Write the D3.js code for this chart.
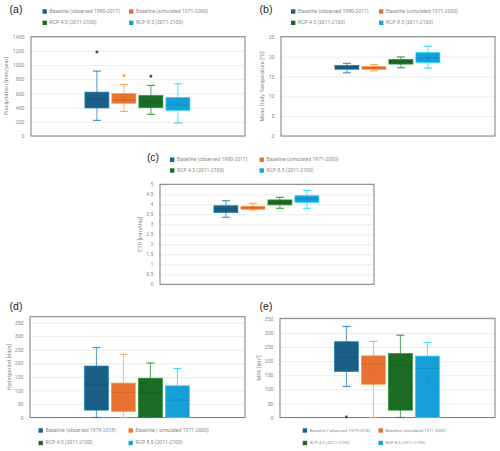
<!DOCTYPE html>
<html>
<head>
<meta charset="utf-8">
<script src="https://cdn.jsdelivr.net/npm/d3@7"></script>
<style>
  body { margin: 0; background: #fff; }
  text { font-family: Roboto, "Liberation Sans", sans-serif; }
</style>
</head>
<body>
<div id="canvas"></div>
<script>
"use strict"

/* Series (same four in every panel) */
let seriesColors = ["#1b5f86", "#ea7231", "#1c6b25", "#179fd9"];

/* Box stats per series: [whiskerLow, q1, median, q3, whiskerHigh, mean] */
let precipBoxes = [
    [220, 395, 515, 619, 915, 544],
    [347, 460, 510, 600, 727, 530],
    [305, 399, 478, 572, 713, 492],
    [183, 362, 436, 544, 737, 450]
];
let precipOutliers = [1185, 852, 843, null];
let tempBoxes = [
    [15.9, 16.8, 17.3, 17.8, 18.3, 17.3],
    [16.4, 16.8, 17.1, 17.5, 18.0, 17.1],
    [17.2, 18.1, 18.7, 19.3, 19.9, 18.7],
    [17.1, 18.5, 19.6, 21.0, 22.6, 19.6]
];
let etpBoxes = [
    [3.35, 3.58, 3.77, 3.93, 4.18, 3.78],
    [3.72, 3.75, 3.83, 3.90, 4.05, 3.84],
    [3.80, 3.97, 4.10, 4.22, 4.35, 4.12],
    [3.80, 4.10, 4.27, 4.43, 4.70, 4.28]
];
let hydroBoxes = [
    [0, 27, 123, 190, 258, 117],
    [0, 22, 93, 127, 233, 91],
    [0, 0, 93, 145, 201, 86],
    [0, 0, 64, 117, 181, 64]
];
let mfaBoxes = [
    [110, 163, 214, 269, 323, 199],
    [0, 118, 190, 219, 270, 164],
    [0, 26, 185, 227, 292, 153],
    [0, 0, 174, 218, 266, 140]
];
let mfaOutliers = [2, null, null, null];

/* Legend labels */
let legendABC = ["Baseline (observed 1980-2017)", "Baseline (simulated 1971-2000)",
                 "RCP 4.5 (2011-2100)", "RCP 8.5 (2011-2100)"];
let legendD = ["Baseline (observed 1979-2018)", "Baseline ( simulated 1971-2000)",
               "RCP 4.5 (2011-2100)", "RCP 8.5 (2011-2100)"];
let legendE = ["Baseline ( observed 1979-2018)", "Baseline (simulated 1971-2000)",
               "RCP 4.5 (2011-2100)", "RCP 8.5 (2011-2100)"];

/* Tick values */
let ticksA = [0, 200, 400, 600, 800, 1000, 1200, 1400];
let ticksB = [0, 5, 10, 15, 20, 25];
let ticksC = [0, 0.5, 1, 1.5, 2, 2.5, 3, 3.5, 4, 4.5, 5];
let ticksDE = [0, 50, 100, 150, 200, 250, 300, 350];

let svgWidth = 500;
let svgHeight = 451;

let svg = d3.select("#canvas")
    .append("svg")
    .attr("width", svgWidth)
    .attr("height", svgHeight);

/* panel layout */
let panels = [
    { tag: "(a)", tagX: 16, tagY: 10, box: [31, 245, 36.7, 136], domain: [0, 1400], ticks: ticksA,
      title: "Precipitation [mm/year]", titleX: 7, data: precipBoxes, outliers: precipOutliers,
      legend: legendABC, legX: [42.5, 129], legY: [11.5, 22.8], legSize: 5.1 },
    { tag: "(b)", tagX: 266, tagY: 10, box: [281, 495, 36.7, 136], domain: [0, 25], ticks: ticksB,
      title: "Mean Daily Temperature [°C]", titleX: 263, data: tempBoxes, outliers: null,
      legend: legendABC, legX: [291, 379], legY: [11.5, 22.8], legSize: 5.1 },
    { tag: "(c)", tagX: 153, tagY: 158.5, box: [160, 374, 184.3, 284.3], domain: [0, 5], ticks: ticksC,
      title: "ETP [mm/day]", titleX: 141, data: etpBoxes, outliers: null,
      legend: legendABC, legX: [170, 259.5], legY: [159.7, 170.5], legSize: 5.1 },
    { tag: "(d)", tagX: 16, tagY: 307, box: [30, 245, 316.7, 417.5], domain: [0, 372], ticks: ticksDE,
      title: "Hydroperiod [days]", titleX: 10, data: hydroBoxes, outliers: null,
      legend: legendD, legX: [38.5, 128.5], legY: [430.5, 443], legSize: 5.1 },
    { tag: "(e)", tagX: 266, tagY: 307, box: [280, 495, 318.3, 417.5], domain: [0, 352], ticks: ticksDE,
      title: "MFA [km2]", titleX: 260, data: mfaBoxes, outliers: mfaOutliers,
      legend: legendE, legX: [302.7, 378.5], legY: [430.5, 443], legSize: 4.3 }
];

panels.forEach(function(p) {
    let [x0, x1, y0, y1] = p.box;
    let g = svg.append("g");

    let yScale = d3.scaleLinear().domain(p.domain).range([y1, y0]);
    let cx = (x0 + x1) / 2 - 0.6;
    let xScale = d3.scaleBand()
        .domain(d3.range(4))
        .range([cx - 52.5, cx + 52.5])
        .paddingInner(0.111)
        .paddingOuter(0);

    /* gridlines */
    g.append("g")
        .attr("transform", "translate(" + x0 + ",0)")
        .call(d3.axisLeft(yScale).tickValues(p.ticks).tickSize(-(x1 - x0)).tickFormat(""))
        .call(a => a.select(".domain").remove())
        .call(a => a.selectAll("line").attr("stroke", "#ececec").attr("stroke-width", 1));

    /* tick labels */
    g.append("g")
        .attr("transform", "translate(" + (x0 - 3.5) + ",0)")
        .call(d3.axisLeft(yScale).tickValues(p.ticks).tickSize(0).tickFormat(d3.format("")))
        .call(a => a.select(".domain").remove())
        .call(a => a.selectAll("text")
            .attr("fill", "#8a8a8a")
            .style("font-size", "5.2px"));

    /* frame */
    g.append("rect")
        .attr("x", x0).attr("y", y0)
        .attr("width", x1 - x0).attr("height", y1 - y0)
        .attr("fill", "none")
        .attr("stroke", "#7c7c7c")
        .attr("stroke-width", 1);

    /* y title */
    let tt = g.append("text")
        .attr("transform", "translate(" + p.titleX + "," + ((y0 + y1) / 2) + ") rotate(-90)")
        .attr("text-anchor", "middle")
        .attr("dominant-baseline", "middle")
        .attr("fill", "#8a8a8a")
        .style("font-size", "5.6px");
    if (p.title === "MFA [km2]") {
        tt.append("tspan").text("MFA [km");
        tt.append("tspan").attr("dy", -2).style("font-size", "4px").text("2");
        tt.append("tspan").attr("dy", 2).text("]");
    } else {
        tt.text(p.title);
    }

    /* panel tag */
    g.append("text")
        .attr("x", p.tagX).attr("y", p.tagY)
        .attr("text-anchor", "middle")
        .attr("dominant-baseline", "middle")
        .attr("fill", "#222")
        .style("font-size", "10.5px")
        .style("font-family", "'Liberation Sans', Arial, sans-serif")
        .text(p.tag);

    /* boxes */
    p.data.forEach(function(d, i) {
        let col = seriesColors[i];
        let light = d3.color(col).brighter(0.9).formatHex();
        let dark = d3.color(col).darker(0.6).formatHex();
        let bx = xScale(i);
        let bw = xScale.bandwidth();
        let mid = bx + bw / 2;

        /* whisker */
        g.append("line")
            .attr("x1", mid).attr("x2", mid)
            .attr("y1", yScale(d[0])).attr("y2", yScale(d[4]))
            .attr("stroke", light).attr("stroke-opacity", 0.8).attr("stroke-width", 1);
        [d[0], d[4]].forEach(function(v) {
            g.append("line")
                .attr("x1", mid - 4).attr("x2", mid + 4)
                .attr("y1", yScale(v)).attr("y2", yScale(v))
                .attr("stroke", light).attr("stroke-opacity", 0.85).attr("stroke-width", 1.2);
        });

        /* box */
        g.append("rect")
            .attr("x", bx).attr("width", bw)
            .attr("y", yScale(d[3]))
            .attr("height", Math.max(yScale(d[1]) - yScale(d[3]), 0.5))
            .attr("fill", col)
            .attr("stroke", light)
            .attr("stroke-width", 0.7);

        /* median */
        g.append("line")
            .attr("x1", bx).attr("x2", bx + bw)
            .attr("y1", yScale(d[2])).attr("y2", yScale(d[2]))
            .attr("stroke", dark).attr("stroke-width", 0.6);

        /* mean x */
        let my = yScale(d[5]);
        g.append("path")
            .attr("d", "M" + (mid - 1.7) + "," + (my - 1.7) + "L" + (mid + 1.7) + "," + (my + 1.7) +
                       "M" + (mid - 1.7) + "," + (my + 1.7) + "L" + (mid + 1.7) + "," + (my - 1.7))
            .attr("stroke", dark).attr("stroke-opacity", 0.7).attr("stroke-width", 0.5).attr("fill", "none");

        /* outlier */
        if (p.outliers && p.outliers[i] != null) {
            g.append("rect")
                .attr("x", mid - 1.3).attr("y", yScale(p.outliers[i]) - 1.3)
                .attr("width", 2.6).attr("height", 2.6)
                .attr("fill", i === 1 ? light : col);
        }
    });

    /* legend */
    p.legend.forEach(function(name, i) {
        let lx = p.legX[i % 2];
        let ly = p.legY[Math.floor(i / 2)];
        g.append("rect")
            .attr("x", lx).attr("y", ly - 2.2)
            .attr("width", 4.4).attr("height", 4.4)
            .attr("fill", seriesColors[i]);
        g.append("text")
            .attr("x", lx + 7).attr("y", ly)
            .attr("dominant-baseline", "middle")
            .attr("fill", "#8a8a8a")
            .style("font-size", p.legSize + "px")
            .text(name);
    });
});
</script>
</body>
</html>
